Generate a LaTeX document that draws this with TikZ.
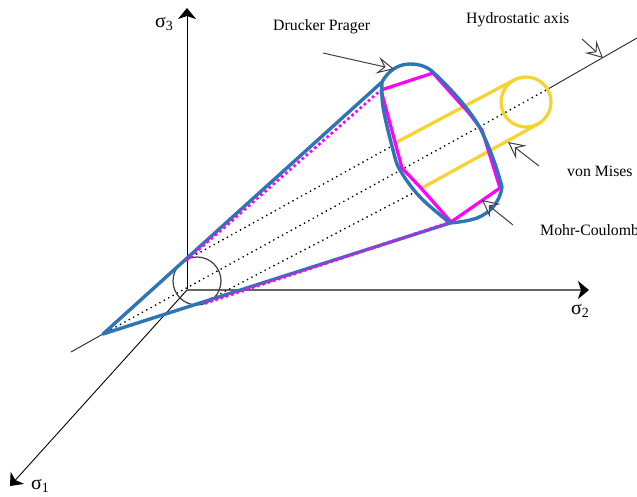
\documentclass[tikz,border=0pt]{standalone}
\usepackage{fontspec}
\setmainfont{Liberation Serif}
\usetikzlibrary{arrows.meta}
\definecolor{cblue}{HTML}{2E75B6}
\definecolor{cmag}{HTML}{FF00FF}
\definecolor{cyel}{HTML}{F8D22E}
\definecolor{cgray}{HTML}{404040}
\tikzset{
  axisline/.style={draw=black,line width=0.9pt,-{Stealth[length=11pt,width=18pt,inset=3pt]}},
  thinline/.style={draw=black!85,line width=0.9pt},
  dots/.style={draw=black,line width=1.9pt,line cap=round,dash pattern=on 0pt off 5pt},
  magdots/.style={draw=cmag,line width=3.8pt,line cap=round,dash pattern=on 0pt off 5.5pt},
  blueline/.style={draw=cblue,line width=3.4pt,line join=round},
  magline/.style={draw=cmag,line width=3.2pt,line join=round},
  yelline/.style={draw=cyel,line width=3.2pt},
  callout/.style={draw=cgray,line width=1pt,-{Stealth[fill=white,length=17pt,width=17pt,inset=7pt]}},
  lab/.style={font=\fontsize{15.8}{18}\selectfont,anchor=west,inner sep=0pt},
  siglab/.style={font=\fontsize{20}{22}\selectfont,anchor=west,inner sep=0pt}
}
\begin{document}
\begin{tikzpicture}[x=1pt,y=-1pt]
\useasboundingbox (0,0) rectangle (637,496);
\clip (0,0) rectangle (637,496);
\fill[white] (0,0) rectangle (637,496);
% named points
\coordinate (O) at (187,290);
\coordinate (s3) at (187,8);
\coordinate (s2) at (589,290);
\coordinate (s1) at (10,486);
\coordinate (hA) at (71,352);
\coordinate (apex) at (103,334);
\coordinate (hM) at (548,89);
\coordinate (hB) at (637,38);
\coordinate (hT) at (603,58);
% axes
\draw[axisline] (O) -- (s3);
\draw[axisline,draw=black!60,line width=1.3pt,-{Stealth[black,length=11pt,width=18pt,inset=3pt]}] (O) -- (s2);
\draw[axisline] (O) -- (s1);
\draw[thinline] (hA) -- (apex);
\draw[thinline] (hM) -- (hB);
\draw[dots] (apex) -- (hM);
\draw[dots] (188,259) -- (392,146);
\draw[dots] (212,298) -- (415,192);
\draw[draw=cgray,line width=1.2pt] (197,281) circle (24);
% yellow cylinder
\draw[yelline] (526,102) circle (25);
\draw[yelline] (395,143) -- (514,80);
\draw[yelline] (422,188) -- (538,124);
% Mohr-Coulomb
\draw[magline] (381,90) -- (433,73) -- (468,112) -- (482,130) -- (500,188) -- (451,222) -- (420,187) -- (402,168) -- cycle;
% Drucker-Prager envelope
\draw[blueline] (apex) -- (382,82) .. controls (388,71) and (398,64) .. (410,64)
  .. controls (420,64) and (428,67) .. (434,73)
  .. controls (452,90) and (470,110) .. (480,128)
  .. controls (490,148) and (497,168) .. (502,187)
  .. controls (500,202) and (490,213) .. (477,218)
  .. controls (468,221) and (460,222) .. (450,223) -- cycle;
\draw[blueline] plot[smooth,tension=0.6] coordinates {(382,82) (383,107) (393,150) (400,170) (420,197) (450,223)};
\draw[magdots] (187,260) -- (381,90);
\draw[magdots] (206,303) -- (451,222);
% callouts
\coordinate (cd1) at (323,53); \coordinate (cd2) at (394,69);
\coordinate (ch1) at (582,39);
\coordinate (cv1) at (539,166); \coordinate (cv2) at (508,142);
\coordinate (cm1) at (513,225); \coordinate (cm2) at (482,200);
\draw[callout] (cd1) -- (cd2);
\draw[callout] (ch1) -- (hT);
\draw[callout] (cv1) -- (cv2);
\draw[callout] (cm1) -- (cm2);
% labels
\node[lab] (ldp) at (273,27) {Drucker Prager};
\node[lab] (lha) at (466,20) {Hydrostatic axis};
\node[lab] (lvm) at (567,171) {von Mises};
\node[lab] (lmc) at (540,230) {Mohr-Coulomb};
\node[siglab] (l3) at (155,24) {σ\raisebox{-3pt}{\fontsize{14}{14}\selectfont 3}};
\node[siglab] (l2) at (571,311) {σ\raisebox{-3pt}{\fontsize{14}{14}\selectfont 2}};
\node[siglab] (l1) at (31,486) {σ\raisebox{-3pt}{\fontsize{14}{14}\selectfont 1}};
\end{tikzpicture}
\end{document}
